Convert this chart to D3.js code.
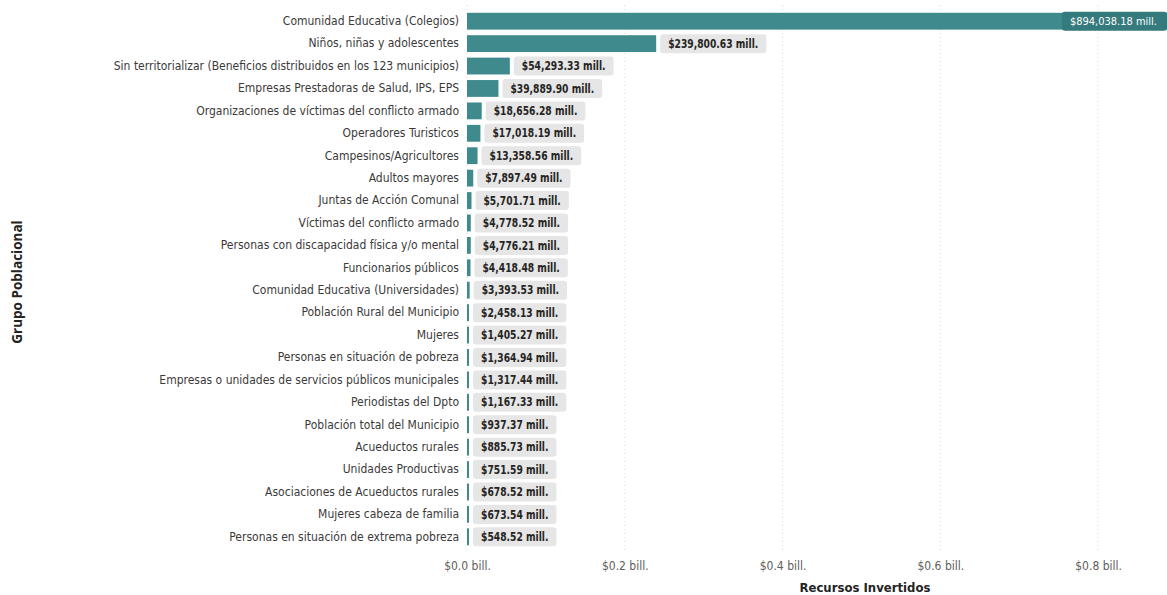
<!DOCTYPE html>
<html>
<head>
<meta charset="utf-8">
<script src="https://cdn.jsdelivr.net/npm/d3@7"></script>
<style>
  body { margin: 0; background: #fff; }
  svg { display: block; }
</style>
</head>
<body>
<div id="chart"></div>
<script>
// data (values in millions of pesos)
const grupos = [
  "Comunidad Educativa (Colegios)",
  "Niños, niñas y adolescentes",
  "Sin territorializar (Beneficios distribuidos en los 123 municipios)",
  "Empresas Prestadoras de Salud, IPS, EPS",
  "Organizaciones de víctimas del conflicto armado",
  "Operadores Turisticos",
  "Campesinos/Agricultores",
  "Adultos mayores",
  "Juntas de Acción Comunal",
  "Víctimas del conflicto armado",
  "Personas con discapacidad física y/o mental",
  "Funcionarios públicos",
  "Comunidad Educativa (Universidades)",
  "Población Rural del Municipio",
  "Mujeres",
  "Personas en situación de pobreza",
  "Empresas o unidades de servicios públicos municipales",
  "Periodistas del Dpto",
  "Población total del Municipio",
  "Acueductos rurales",
  "Unidades Productivas",
  "Asociaciones de Acueductos rurales",
  "Mujeres cabeza de familia",
  "Personas en situación de extrema pobreza"
];
const recursos = [
  894038.18, 239800.63, 54293.33, 39889.90, 18656.28, 17018.19, 13358.56,
  7897.49, 5701.71, 4778.52, 4776.21, 4418.48, 3393.53, 2458.13, 1405.27,
  1364.94, 1317.44, 1167.33, 937.37, 885.73, 751.59, 678.52, 673.54, 548.52
];
const ticks = [0, 200000, 400000, 600000, 800000];
const tickLabels = ["$0.0 bill.", "$0.2 bill.", "$0.4 bill.", "$0.6 bill.", "$0.8 bill."];

const width = 1167, height = 595;
const barColor = "#3f8a8c";
const narrow = "'DejaVu Sans Condensed', 'Liberation Sans Narrow', sans-serif";

const svg = d3.select("#chart").append("svg")
  .attr("width", width)
  .attr("height", height);

const x = d3.scaleLinear().domain([0, 900000]).range([467, 1177]);
const y = d3.scaleBand().domain(grupos).range([10, 548]).paddingInner(0.25).paddingOuter(0.125);

// squeeze a text element horizontally, returns the new width
function squeeze(sel, k) {
  const w = sel.node().getComputedTextLength() * k;
  sel.attr("textLength", w).attr("lengthAdjust", "spacingAndGlyphs");
  return w;
}

// dotted gridlines
svg.append("g")
  .selectAll("line")
  .data(ticks)
  .join("line")
    .attr("x1", d => x(d)).attr("x2", d => x(d))
    .attr("y1", 5).attr("y2", 550)
    .attr("stroke", "#d6d6d6")
    .attr("stroke-width", 1)
    .attr("stroke-dasharray", "1,3");

// x axis tick labels
const xAxis = svg.append("g")
  .attr("transform", "translate(0,558)")
  .call(d3.axisBottom(x).tickValues(ticks).tickFormat((d, i) => tickLabels[i]).tickSize(0));
xAxis.select(".domain").remove();
xAxis.selectAll("text")
  .attr("fill", "#605e5c")
  .style("font-family", narrow)
  .style("font-size", "12px");

// y axis category labels
const yAxis = svg.append("g")
  .attr("transform", "translate(459,0)")
  .call(d3.axisLeft(y).tickSize(0).tickPadding(0));
yAxis.select(".domain").remove();
yAxis.selectAll("text")
  .attr("fill", "#3b3a39")
  .style("font-family", narrow)
  .style("font-size", "12px");

const rows = grupos.map((g, i) => ({ grupo: g, valor: recursos[i] }));

// bars
svg.append("g")
  .selectAll("rect")
  .data(rows)
  .join("rect")
    .attr("x", x(0))
    .attr("y", d => y(d.grupo))
    .attr("width", d => Math.max(2, x(d.valor) - x(0)))
    .attr("height", y.bandwidth())
    .attr("fill", barColor);

// data labels with rounded background
const fmt = d => "$" + d3.format(",.2f")(d) + " mill.";
const labels = svg.append("g")
  .selectAll("g")
  .data(rows)
  .join("g");

labels.each(function(d, i) {
  const g = d3.select(this);
  const cy = y(d.grupo) + y.bandwidth() / 2;
  const inside = i === 0;
  const txt = g.append("text")
    .attr("y", cy)
    .attr("dy", "0.35em")
    .attr("fill", inside ? "#fff" : "#252423")
    .style("font-family", narrow)
    .style("font-size", inside ? "11px" : "12px")
    .style("font-weight", inside ? "normal" : "bold")
    .text(fmt(d.valor));
  const w = inside ? txt.node().getComputedTextLength() : squeeze(txt, 0.85);
  const padL = 8;
  let bx;
  if (inside) {
    bx = width - w - 2 * padL - 2;
  } else {
    bx = Math.max(x(0) + 2, x(d.valor)) + 4;
  }
  g.insert("rect", "text")
    .attr("x", bx)
    .attr("y", cy - 9.5)
    .attr("width", inside ? width - bx : w + 2 * padL)
    .attr("height", 19)
    .attr("rx", 3)
    .attr("fill", inside ? "#357a7c" : "#e6e6e6");
  txt.attr("x", bx + padL);
});

// axis titles
svg.append("text")
  .attr("x", 865)
  .attr("y", 592)
  .attr("text-anchor", "middle")
  .attr("fill", "#252423")
  .style("font-family", narrow)
  .style("font-size", "13px")
  .style("font-weight", "bold")
  .text("Recursos Invertidos");

svg.append("text")
  .attr("transform", "translate(22,282) rotate(-90)")
  .attr("text-anchor", "middle")
  .attr("fill", "#252423")
  .style("font-family", "'Open Sans', sans-serif")
  .style("font-size", "13.5px")
  .style("font-weight", "bold")
  .text("Grupo Poblacional");
</script>
</body>
</html>
